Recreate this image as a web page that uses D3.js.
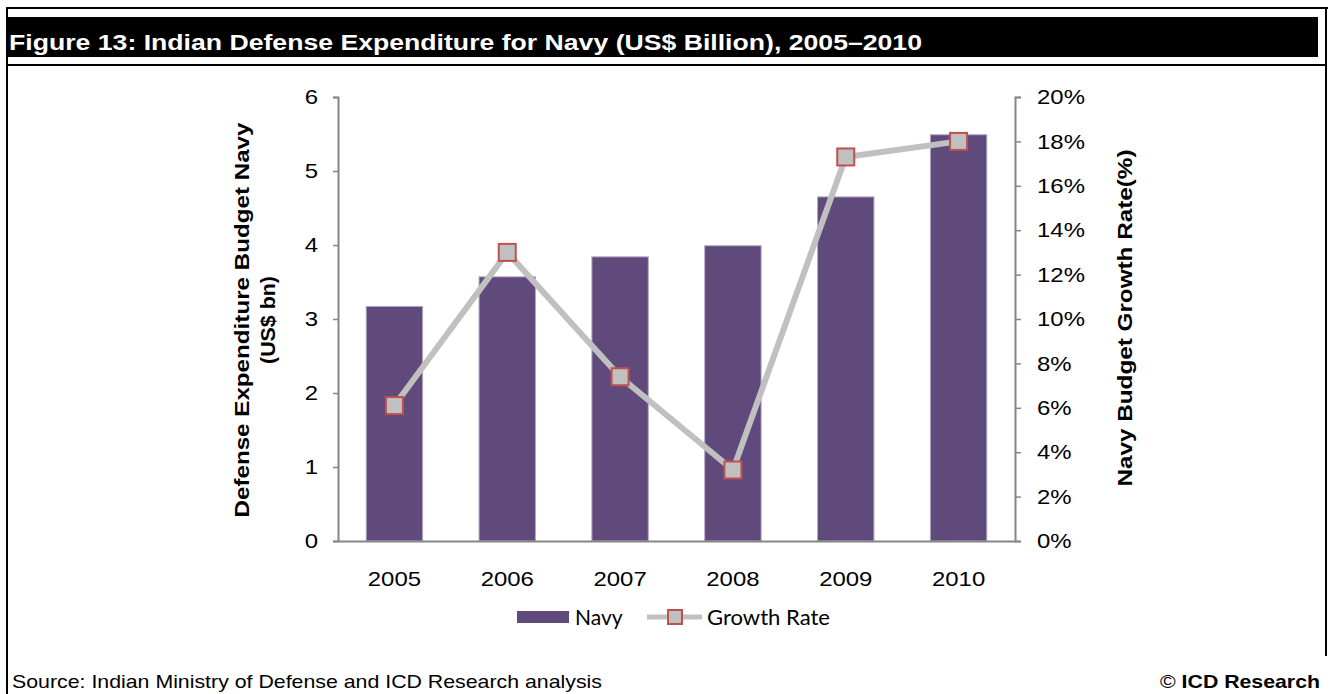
<!DOCTYPE html>
<html>
<head>
<meta charset="utf-8">
<script src="https://cdn.jsdelivr.net/npm/d3@7"></script>
<style>
  html, body { margin: 0; padding: 0; background: #fff; }
  svg { display: block; }
  text { font-family: Arial, "Liberation Sans", sans-serif; }
</style>
</head>
<body>
<svg id="chart" width="1330" height="694"></svg>
<script>
// Chart data
const years = ["2005", "2006", "2007", "2008", "2009", "2010"];
const navyBudget = [3.17, 3.57, 3.84, 3.99, 4.65, 5.49];        // US$ bn
const growthRate = [0.061, 0.130, 0.074, 0.032, 0.173, 0.180];  // fraction
const leftTicks = [0, 1, 2, 3, 4, 5, 6];
const rightTicks = [0, 0.02, 0.04, 0.06, 0.08, 0.10, 0.12, 0.14, 0.16, 0.18, 0.20];

const titleText = "Figure 13: Indian Defense Expenditure for Navy (US$ Billion), 2005\u20132010";
const sourceText = "Source: Indian Ministry of Defense and ICD Research analysis";

const svg = d3.select("#chart");

// Widen text glyphs horizontally (along the text direction) by a factor
function widen(sel, factor) {
  sel.each(function () {
    const w = this.getComputedTextLength();
    d3.select(this).attr("textLength", w * factor).attr("lengthAdjust", "spacingAndGlyphs");
  });
}

// Frame and title bar
const frame = svg.append("g");
frame.append("line").attr("x1", 6).attr("x2", 1328).attr("y1", 8).attr("y2", 8)
  .attr("stroke", "#000").attr("stroke-width", 2);
frame.append("line").attr("x1", 7).attr("x2", 7).attr("y1", 7).attr("y2", 694)
  .attr("stroke", "#000").attr("stroke-width", 2);
frame.append("line").attr("x1", 1326).attr("x2", 1326).attr("y1", 7).attr("y2", 656)
  .attr("stroke", "#000").attr("stroke-width", 2);
frame.append("line").attr("x1", 6).attr("x2", 1327).attr("y1", 65).attr("y2", 65)
  .attr("stroke", "#000").attr("stroke-width", 2);
frame.append("rect").attr("x", 7).attr("y", 17).attr("width", 1311).attr("height", 40)
  .attr("fill", "#000");
frame.append("text").attr("x", 9).attr("y", 50)
  .attr("fill", "#fff").attr("font-size", 22).attr("font-weight", "bold")
  .attr("textLength", 913).attr("lengthAdjust", "spacingAndGlyphs")
  .text(titleText);

// Plot area
const plot = { left: 338, right: 1015, top: 97, bottom: 541 };

const x = d3.scaleBand().domain(years).range([plot.left, plot.right]).paddingInner(0.5).paddingOuter(0.25);
const yL = d3.scaleLinear().domain([0, 6]).range([plot.bottom, plot.top]);
const yR = d3.scaleLinear().domain([0, 0.20]).range([plot.bottom, plot.top]);

const axisColor = "#868686";

// Bars
svg.append("g").selectAll("rect").data(navyBudget).join("rect")
  .attr("x", (d, i) => x(years[i]))
  .attr("y", d => yL(d))
  .attr("width", x.bandwidth())
  .attr("height", d => yL(0) - yL(d))
  .attr("fill", "#604a7b")
  .attr("stroke", "#b3a9c6").attr("stroke-width", 1);

// Left axis
const gL = svg.append("g").attr("transform", `translate(${plot.left},0)`)
  .call(d3.axisLeft(yL).tickValues(leftTicks).tickSize(5).tickPadding(15).tickFormat(d3.format("d")));
gL.select(".domain").attr("stroke", axisColor).attr("stroke-width", 2);
gL.selectAll(".tick line").attr("stroke", axisColor).attr("stroke-width", 1.5);
gL.selectAll(".tick text").attr("font-size", 21).attr("fill", "#000")
  .attr("font-family", "Arial, 'Liberation Sans', sans-serif").call(widen, 1.14);

// Right axis
const gR = svg.append("g").attr("transform", `translate(${plot.right},0)`)
  .call(d3.axisRight(yR).tickValues(rightTicks).tickSize(6).tickPadding(16).tickFormat(d3.format(".0%")));
gR.select(".domain").attr("stroke", axisColor).attr("stroke-width", 2);
gR.selectAll(".tick line").attr("stroke", axisColor).attr("stroke-width", 1.5);
gR.selectAll(".tick text").attr("font-size", 21).attr("fill", "#000")
  .attr("font-family", "Arial, 'Liberation Sans', sans-serif").call(widen, 1.14);

// Category axis
const gX = svg.append("g").attr("transform", `translate(0,${plot.bottom})`)
  .call(d3.axisBottom(x).tickSize(0).tickPadding(30));
gX.select(".domain").attr("stroke", axisColor).attr("stroke-width", 2);
gX.selectAll(".tick text").attr("font-size", 21).attr("fill", "#000")
  .attr("font-family", "Arial, 'Liberation Sans', sans-serif").call(widen, 1.14);

// Growth rate line and markers
const cx = (d, i) => x(years[i]) + x.bandwidth() / 2;
svg.append("path").datum(growthRate)
  .attr("d", d3.line().x(cx).y(d => yR(d)))
  .attr("fill", "none").attr("stroke", "#c0c0c0").attr("stroke-width", 6)
  .attr("stroke-linejoin", "round");
const mSize = 17;
svg.append("g").selectAll("rect").data(growthRate).join("rect")
  .attr("x", (d, i) => cx(d, i) - mSize / 2)
  .attr("y", d => yR(d) - mSize / 2)
  .attr("width", mSize).attr("height", mSize)
  .attr("fill", "#c0c0c0").attr("stroke", "#c0504d").attr("stroke-width", 2);

// Axis titles
const leftTitle = svg.append("g").attr("transform", "translate(249,320) rotate(-90)");
leftTitle.append("text").attr("x", 0).attr("y", 0)
  .attr("text-anchor", "middle").attr("font-size", 20).attr("font-weight", "bold")
  .attr("textLength", 395).attr("lengthAdjust", "spacingAndGlyphs")
  .text("Defense Expenditure  Budget Navy");
leftTitle.append("text").attr("x", 0).attr("y", 26)
  .attr("text-anchor", "middle").attr("font-size", 20).attr("font-weight", "bold")
  .attr("textLength", 88).attr("lengthAdjust", "spacingAndGlyphs")
  .text("(US$ bn)");

svg.append("text")
  .attr("transform", "translate(1132,318) rotate(-90)")
  .attr("text-anchor", "middle").attr("font-size", 20).attr("font-weight", "bold")
  .attr("textLength", 337).attr("lengthAdjust", "spacingAndGlyphs")
  .text("Navy Budget  Growth Rate(%)");

// Legend
const legend = svg.append("g");
legend.append("rect").attr("x", 517).attr("y", 611).attr("width", 52).attr("height", 12).attr("fill", "#604a7b");
legend.append("text").attr("x", 575).attr("y", 625).attr("font-size", 21)
  .style("font-family", "Lato, 'Open Sans', sans-serif").text("Navy");
legend.append("line").attr("x1", 647).attr("x2", 702).attr("y1", 617).attr("y2", 617)
  .attr("stroke", "#c0c0c0").attr("stroke-width", 5);
legend.append("rect").attr("x", 668).attr("y", 610).attr("width", 14).attr("height", 14)
  .attr("fill", "#c0c0c0").attr("stroke", "#c0504d").attr("stroke-width", 2);
legend.append("text").attr("x", 707).attr("y", 625).attr("font-size", 21)
  .style("font-family", "Lato, 'Open Sans', sans-serif")
  .attr("textLength", 123).attr("lengthAdjust", "spacingAndGlyphs")
  .text("Growth Rate");

// Footer
svg.append("text").attr("x", 12).attr("y", 688).attr("font-size", 19)
  .attr("textLength", 590).attr("lengthAdjust", "spacingAndGlyphs")
  .text(sourceText);
const copy = svg.append("text").attr("x", 1320).attr("y", 688).attr("font-size", 19)
  .attr("text-anchor", "end")
  .attr("textLength", 160).attr("lengthAdjust", "spacingAndGlyphs");
copy.append("tspan").text("\u00A9 ");
copy.append("tspan").attr("font-weight", "bold").text("ICD Research");
</script>
</body>
</html>
